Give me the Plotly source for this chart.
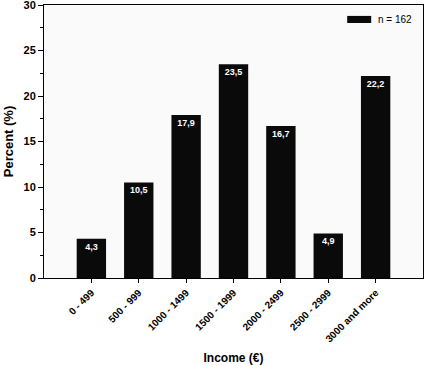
import plotly.graph_objects as go

categories = ["0 - 499", "500 - 999", "1000 - 1499", "1500 - 1999",
              "2000 - 2499", "2500 - 2999", "3000 and more"]
percent = [4.3, 10.5, 17.9, 23.5, 16.7, 4.9, 22.2]
labels = [f"{v:.1f}".replace(".", ",") for v in percent]
y_ticks = [0, 5, 10, 15, 20, 25, 30]
legend_text = "n = 162"

FONT = "Arial, Liberation Sans, sans-serif"

fig = go.Figure()
fig.add_trace(go.Bar(
    x=categories, y=percent, text=labels,
    textposition="inside", insidetextanchor="end",
    textangle=0,
    textfont=dict(family=FONT, size=9, color="white", weight="bold"),
    marker=dict(color="#0a0a0a", line=dict(width=0)),
    width=0.62, showlegend=False,
))

fig.update_layout(
    width=424, height=365,
    margin=dict(l=44, r=1, t=5, b=87, autoexpand=False),
    paper_bgcolor="white", plot_bgcolor="#fafafa",
    font=dict(family=FONT, color="black"),
    uniformtext=dict(minsize=9, mode="show"),
    shapes=[dict(type="rect", xref="paper", yref="paper",
                 x0=0.8, x1=0.8633, y0=0.934, y1=0.96,
                 fillcolor="#0a0a0a", line=dict(width=0))],
    annotations=[dict(text=legend_text, xref="paper", yref="paper",
                      x=0.877, y=0.947, xanchor="left", yanchor="middle",
                      showarrow=False,
                      font=dict(family=FONT, size=10, color="black"))],
)
fig.update_xaxes(
    range=[-1, 7], showline=True, linecolor="black", linewidth=1, mirror=True,
    ticks="outside", ticklen=4, tickcolor="black", tickangle=-45,
    tickfont=dict(family=FONT, size=10, color="black", weight="bold"),
    title=dict(text="Income (€)", font=dict(family=FONT, size=12, weight="bold"),
               standoff=10),
    showgrid=False, zeroline=False, automargin=False,
)
fig.update_yaxes(
    range=[0, 30], tickvals=y_ticks, showline=True, linecolor="black",
    linewidth=1, mirror=True,
    ticks="outside", ticklen=5, tickcolor="black",
    minor=dict(ticks="outside", dtick=2.5, ticklen=3, tickcolor="black"),
    tickfont=dict(family=FONT, size=11, color="black", weight="bold"),
    ticklabeloverflow="allow",
    title=dict(text="Percent (%)", font=dict(family=FONT, size=13, weight="bold"),
               standoff=6),
    showgrid=False, zeroline=False, automargin=False,
)

fig.write_html("out.html",
               config={"displayModeBar": False},
               post_script="document.body.style.margin='0';"
                           "document.body.style.overflow='hidden';")
